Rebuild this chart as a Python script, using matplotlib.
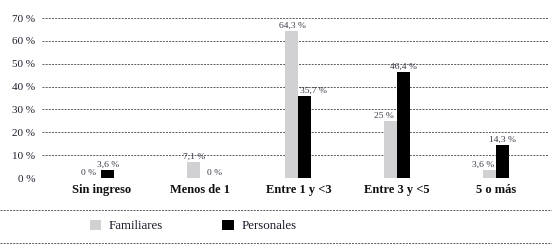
import matplotlib
matplotlib.use("Agg")
import matplotlib.pyplot as plt
from matplotlib.lines import Line2D
from matplotlib.patches import Patch
import numpy as np

categories = ["Sin ingreso", "Menos de 1", "Entre 1 y <3", "Entre 3 y <5", "5 o más"]
familiares = [0, 7.1, 64.3, 25, 3.6]
personales = [3.6, 0, 35.7, 46.4, 14.3]
fam_labels = ["0 %", "7,1 %", "64,3 %", "25 %", "3,6 %"]
per_labels = ["3,6 %", "0 %", "35,7 %", "46,4 %", "14,3 %"]
yticks = [0, 10, 20, 30, 40, 50, 60, 70]
ytick_labels = ["0 %", "10 %", "20 %", "30 %", "40 %", "50 %", "60 %", "70 %"]

GRAY = "#d1d1d3"
BLACK = "#000000"
GRID = "#444444"
TXT = "#1c1c2c"
SERIF = ["Liberation Serif", "DejaVu Serif"]

plt.rcParams["font.family"] = SERIF

fig = plt.figure(figsize=(5.52, 2.48), dpi=100)
ax = fig.add_axes([42 / 552, 1 - 178 / 248, (548 - 42) / 552, 160 / 248])

x = np.arange(len(categories))
w = 0.132
ax.bar(x - w / 2, familiares, width=w, color=GRAY, zorder=3)
ax.bar(x + w / 2, personales, width=w, color=BLACK, zorder=3)

for i in range(len(categories)):
    f, p = familiares[i], personales[i]
    fs = -0.065 if f < p else 0.01
    ps = 0.085 if p < f else 0.0
    ax.text(x[i] - w / 2 + fs, f + 0.5, fam_labels[i], ha="center", va="bottom",
            fontsize=6.8, color="#3a3a48", zorder=4)
    ax.text(x[i] + w / 2 + ps, p + 0.5, per_labels[i], ha="center", va="bottom",
            fontsize=6.8, color="#3a3a48", zorder=4)

ax.set_xlim(-0.6, 4.53)
ax.set_ylim(0, 70)
ax.set_yticks(yticks)
ax.set_yticklabels(ytick_labels, fontsize=8, color=TXT)
ax.set_xticks(x)
ax.set_xticklabels(categories, fontsize=9, fontweight="bold", color="#111111")
ax.tick_params(axis="both", length=0)
ax.tick_params(axis="y", pad=5)
ax.tick_params(axis="x", pad=4)
for s in ax.spines.values():
    s.set_visible(False)
ax.yaxis.grid(True, linestyle=(0, (2.4, 1.4)), color=GRID, linewidth=0.6, zorder=0)
ax.set_axisbelow(True)

for yy in (210, 243):
    fig.add_artist(Line2D([0.0, 1.0], [1 - yy / 248, 1 - yy / 248],
                          transform=fig.transFigure, linestyle=(0, (2.4, 1.4)),
                          color=GRID, linewidth=0.6))

handles = [Patch(facecolor=GRAY, edgecolor="none"), Patch(facecolor=BLACK, edgecolor="none")]
fig.legend(handles, ["Familiares", "Personales"], loc="center left",
           bbox_to_anchor=(78 / 552, 1 - 226 / 248), ncol=2, frameon=False,
           handlelength=0.9, handleheight=0.9, handletextpad=0.6,
           columnspacing=4.55, labelcolor=TXT,
           prop={"family": SERIF, "size": 9.3})

fig.savefig("out.png", dpi=100)
